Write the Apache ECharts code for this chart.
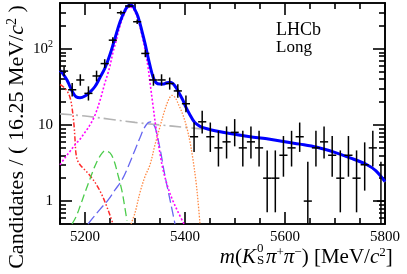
<!DOCTYPE html>
<html>
<head>
<meta charset="utf-8">
<script src="https://cdn.jsdelivr.net/npm/echarts@6/dist/echarts.min.js"></script>
<style>html,body{margin:0;padding:0;background:#fff}#c{width:407px;height:274px}</style>
</head>
<body>
<div id="c"></div>
<script>
// ---------------- data ----------------
const binLow = 5150;
const binWidth = 16.25;
const counts = [51, 29, 39, 26, 44, 64, 130, 298, 365, 227, 87, 39, 39, 35, 28, 19, 7, 11, 7, 5,
                6, 8, 5, 6, 5, 2, 2, 4, 5, 7, 1, 5, 6, 4, 2, 4, 2, 3, 5, 1];

const totalFit = [[5150,52],[5156,47],[5164,39],[5170,32],[5176,26.5],[5182,23.5],[5190,22.8],[5200,24],
  [5210,27],[5220,32],[5230,42],[5240,56],[5250,84],[5260,138],[5270,225],[5280,320],[5288,372],[5294,370],
  [5300,325],[5306,265],[5314,170],[5320,118],[5326,78],[5330,60],[5336,43],[5342,36],[5350,34.5],[5356,34.5],
  [5362,35.5],[5370,36.5],[5376,35],[5382,31],[5390,25],[5396,21],[5402,17],[5410,13.5],[5416,11.6],[5422,10.4],
  [5430,9.6],[5444,8.9],[5460,8.4],[5490,7.7],[5530,7.0],[5564,6.6],[5600,6.0],[5630,5.6],[5664,5.1],
  [5698,4.4],[5730,3.7],[5764,3.0],[5782,2.5],[5800,1.8]];
const combBkg = [[5150,14],[5200,13.1],[5250,11.9],[5300,10.8],[5350,10.0],[5400,9.3],[5450,8.6],[5490,7.6],
  [5530,6.9],[5564,6.5],[5600,5.95],[5630,5.55],[5664,5.05],[5698,4.38],[5730,3.65],[5764,2.95],[5782,2.48],[5800,1.78]];
const partReco = [[5150,34],[5156,32],[5164,28],[5170,23],[5174,17],[5178,10],[5180,6.5],[5182,4.2],[5186,3.3],
  [5194,2.8],[5204,2.4],[5214,2.0],[5224,1.6],[5234,1.2],[5242,0.9],[5250,0.65],[5256,0.5]];
const sigB0 = [[5150,3.0],[5160,3.7],[5170,4.5],[5180,5.5],[5190,6.5],[5200,8],[5210,10],[5220,13.5],[5230,21],
  [5240,36],[5246,48],[5250,60],[5256,90],[5262,125],[5270,200],[5280,300],[5288,352],[5294,350],[5300,305],
  [5306,245],[5314,150],[5320,98],[5326,58],[5330,36],[5336,18],[5342,9],[5350,4.2],[5356,2.6],[5366,1.5],
  [5376,1.0],[5386,0.72],[5398,0.5]];
const sigBs = [[5292,0.5],[5300,0.7],[5310,1.3],[5320,2.1],[5330,3.0],[5340,5.5],[5350,9.5],[5360,16],[5368,22],
  [5374,24.5],[5380,23],[5388,18],[5396,13.5],[5404,9],[5410,6],[5416,3.5],[5422,1.8],[5426,1.0],[5430,0.5]];
const bkgGreen = [[5174,0.5],[5182,0.62],[5190,0.85],[5200,1.3],[5210,1.95],[5220,2.9],[5230,3.9],[5240,4.55],
  [5250,4.3],[5258,3.4],[5266,2.2],[5274,1.35],[5280,0.8],[5284,0.55]];
const bkgBlue = [[5206,0.5],[5220,0.65],[5230,0.78],[5246,1.03],[5260,1.4],[5274,1.9],[5286,2.8],[5300,4.7],
  [5310,6.8],[5318,9.0],[5326,10.7],[5332,11.0],[5340,9.3],[5346,6.5],[5352,4.2],[5358,2.5],[5364,1.6],
  [5372,0.9],[5380,0.5]];

const xMajor = [5200, 5400, 5600, 5800];
const xMinor = [5150,5250,5300,5350,5450,5500,5550,5650,5700,5750];
const yMajor = [1, 10, 100];
const yMinor = [0.6,0.7,0.8,0.9,2,3,4,5,6,7,8,9,20,30,40,50,60,70,80,90,200,300];

// ---------------- build ----------------
const FONT = 'Liberation Serif';
function poisson(n){
  const lo = n > 0 ? n*Math.pow(1 - 1/(9*n) - 1/(3*Math.sqrt(n)),3) : 0;
  const m = n + 1;
  const hi = m*Math.pow(1 - 1/(9*m) + 1/(3*Math.sqrt(m)),3);
  return [lo, hi];
}
const points = counts.map((n,i) => {
  const c = binLow + binWidth*(i+0.5);
  const [lo,hi] = poisson(n);
  return [c, n, lo, hi];
});

const chart = echarts.init(document.getElementById('c'), null, {renderer:'canvas'});
const axLine = {show:true, lineStyle:{color:'#000', width:1.6}};
function xAx(pos, vals, len, labels){
  return {type:'value', min:5150, max:5800, position:pos, gridIndex:0,
    axisLine: axLine, splitLine:{show:false},
    axisTick:{show:true, inside:true, length:len, customValues:vals, lineStyle:{color:'#000', width:1.6}},
    axisLabel: labels ? {show:true, customValues:xMajor, color:'#000', fontFamily:FONT, fontSize:15, margin:6,
      formatter: v => String(Math.round(v))} : {show:false}};
}
function yAx(pos, vals, len, labels){
  return {type:'log', logBase:10, min:0.5, max:400, position:pos, gridIndex:0,
    axisLine: axLine, splitLine:{show:false},
    axisTick:{show:true, inside:true, length:len, customValues:vals, lineStyle:{color:'#000', width:1.6}},
    axisLabel: labels ? {show:true, customValues:yMajor, color:'#000', fontFamily:FONT, fontSize:15, margin:7,
      formatter: v => { const r = Math.round(v); return r === 100 ? '10{s|2}' : String(r); },
      rich:{s:{fontSize:10, fontFamily:FONT, color:'#000', verticalAlign:'top', padding:[0,0,8,0]}}} : {show:false}};
}
function curve(data, color, width, type, z){
  return {type:'line', data:data, xAxisIndex:0, yAxisIndex:0, showSymbol:false, smooth:0.35,
    lineStyle:{color:color, width:width, type:type}, z:z, silent:true, animation:false};
}

const TF = 21;   // title font size
const option = {
  animation:false,
  grid:{left:60, right:22, top:3, bottom:50, containLabel:false},
  xAxis:[xAx('bottom', xMajor, 12, true), xAx('bottom', xMinor, 6, false), xAx('top', xMajor, 12, false), xAx('top', xMinor, 6, false)],
  yAxis:[yAx('left', yMajor, 12, true), yAx('left', yMinor, 6, false), yAx('right', yMajor, 12, false), yAx('right', yMinor, 6, false)],
  series:[
    curve(combBkg, '#b4b4b4', 1.6, [12,4,2,4], 2),
    curve(partReco, '#ff2a2a', 1.5, [5,2,1.5,2,1.5,2], 3),
    curve(bkgGreen, '#4ccc4c', 1.3, [8,4], 3),
    curve(bkgBlue, '#6767f0', 1.3, [10,4], 3),
    curve(sigBs, '#ff8a45', 1.3, [1.5,1.5], 3),
    curve(sigB0, '#ff00ff', 1.6, [2,2], 4),
    curve(totalFit, '#0000ff', 3, 'solid', 5),
    {type:'custom', data:points, xAxisIndex:0, yAxisIndex:0, z:10, silent:true, clip:true,
     renderItem:(params, api) => {
       const c = api.value(0), n = api.value(1);
       const lo = Math.max(api.value(2), 0.5), hi = Math.min(api.value(3), 400);
       const pTop = api.coord([c, hi]), pBot = api.coord([c, lo]);
       const pL = api.coord([c - binWidth/2, n]), pR = api.coord([c + binWidth/2, n]);
       const st = {stroke:'#000', lineWidth:1.5, fill:null};
       return {type:'group', children:[
         {type:'line', shape:{x1:pTop[0], y1:pTop[1], x2:pBot[0], y2:pBot[1]}, style:st},
         {type:'line', shape:{x1:pL[0], y1:pL[1], x2:pR[0], y2:pR[1]}, style:st}
       ]};
     }}
  ],
  graphic:[
    {type:'text', left:276, top:21, style:{text:'LHCb', font:'18px "Liberation Serif"', fill:'#000'}},
    {type:'text', left:276, top:39, style:{text:'Long', font:'17px "Liberation Serif"', fill:'#000'}},
    {type:'text', x:17, y:137, rotation:Math.PI/2,
     style:{text:'Candidates / ( 16.25 MeV/{i|c}{s|2} )', fontFamily:FONT, fontSize:22, fill:'#000',
       align:'center', verticalAlign:'middle',
       rich:{i:{fontStyle:'italic', fontFamily:FONT, fontSize:22}, s:{fontFamily:FONT, fontSize:14, verticalAlign:'top', padding:[0,0,9,0]}}}},
    {type:'text', x:256, y:257,
     style:{text:'{i|m}({i|K}', fontFamily:FONT, fontSize:TF, fill:'#000', align:'right', verticalAlign:'middle',
       rich:{i:{fontStyle:'italic', fontFamily:FONT, fontSize:TF}}}},
    {type:'text', x:257, y:242, style:{text:'0', font:'13px "Liberation Serif"', fill:'#000'}},
    {type:'text', x:257, y:254, style:{text:'S', font:'13px "Liberation Serif"', fill:'#000'}},
    {type:'text', x:266, y:257,
     style:{text:'{i|π}{s|+}{i|π}{s|−}) [MeV/{i|c}{s|2}]', fontFamily:FONT, fontSize:TF, fill:'#000',
       align:'left', verticalAlign:'middle',
       rich:{i:{fontStyle:'italic', fontFamily:FONT, fontSize:TF},
             s:{fontFamily:FONT, fontSize:13, verticalAlign:'top', padding:[0,0,8,0]}}}}
  ]
};
chart.setOption(option);
</script>
</body>
</html>
